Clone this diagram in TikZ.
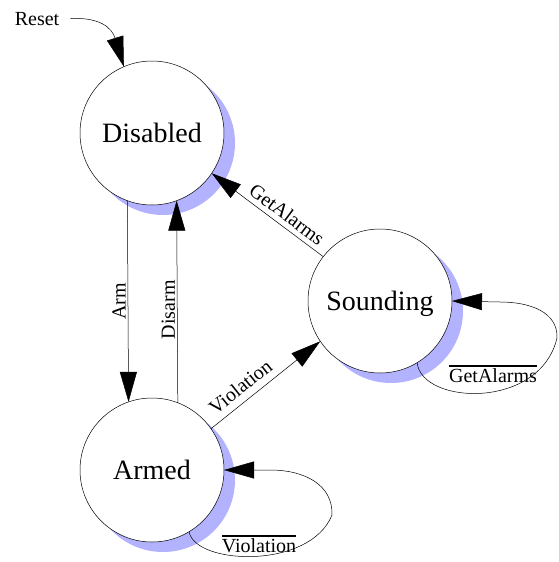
\documentclass[tikz,border=0pt]{standalone}
\usepackage{fontspec}
\setmainfont{Liberation Serif}
\usetikzlibrary{arrows.meta}
\definecolor{shadowblue}{RGB}{178,178,255}
\newcommand{\ovl}[1]{\vbox{\hrule height 1.2pt\kern 2pt\hbox{#1}}}
\begin{document}
\begin{tikzpicture}[x=1pt,y=-1pt,
  state/.style={circle, draw, fill=white, minimum size=144pt, inner sep=0pt, outer sep=0pt, text depth=0pt, font=\fontsize{28}{30}\selectfont, line width=0.5pt},
  shadowdisk/.style={circle, fill=shadowblue, minimum size=144pt, inner sep=0pt, outer sep=0pt},
  trans/.style={line width=0.5pt, -{Triangle[length=30pt,width=17pt]}},
  lbl/.style={font=\fontsize{20}{22}\selectfont, inner sep=2pt}]
\useasboundingbox (0,0) rectangle (559,562);
% shadows
\node[shadowdisk] (disS) at (163,143) {};
\node[shadowdisk] (sndS) at (391,311) {};
\node[shadowdisk] (armS) at (163,480) {};
% states
\node[state] (dis) at (152,133) {Disabled};
\node[state] (snd) at (380,301) {Sounding};
\node[state] (arm) at (152,470) {Armed};
% reset
\node[lbl] (reset) at (37,19) {Reset};
\draw[trans, shorten <=9pt] (reset.east) .. controls (100,17) and (112,28) .. (dis.113);
% transitions
\draw[trans] (dis.250.53) -- node[lbl, rotate=90, anchor=south] {Arm} (arm.109.47);
\draw[trans] (arm.69.7) -- node[lbl, rotate=90, anchor=south, pos=0.46] {Disarm} (dis.290.3);
\draw[trans] (snd.142.8) -- node[lbl, sloped, above=3pt, pos=0.39] {GetAlarms} (dis.326.3);
\draw[trans] (arm.35) -- node[lbl, sloped, above=5pt, pos=0.35] {Violation} (snd.214.3);
% self loops
\draw[trans] (arm.301) .. controls (195,565) and (310,570) .. (332,515) .. controls (333,485) and (305,470) .. (270,470) -- (arm.0);
\node[lbl] (armloop) at (259,544) {\ovl{Violation}};
\draw[trans] (snd.301) .. controls (422,405) and (540,410) .. (557,338) .. controls (558,312) and (530,302) .. (500,302) -- (snd.0);
\node[lbl] (sndloop) at (493,374) {\ovl{GetAlarms}};
\end{tikzpicture}
\end{document}
